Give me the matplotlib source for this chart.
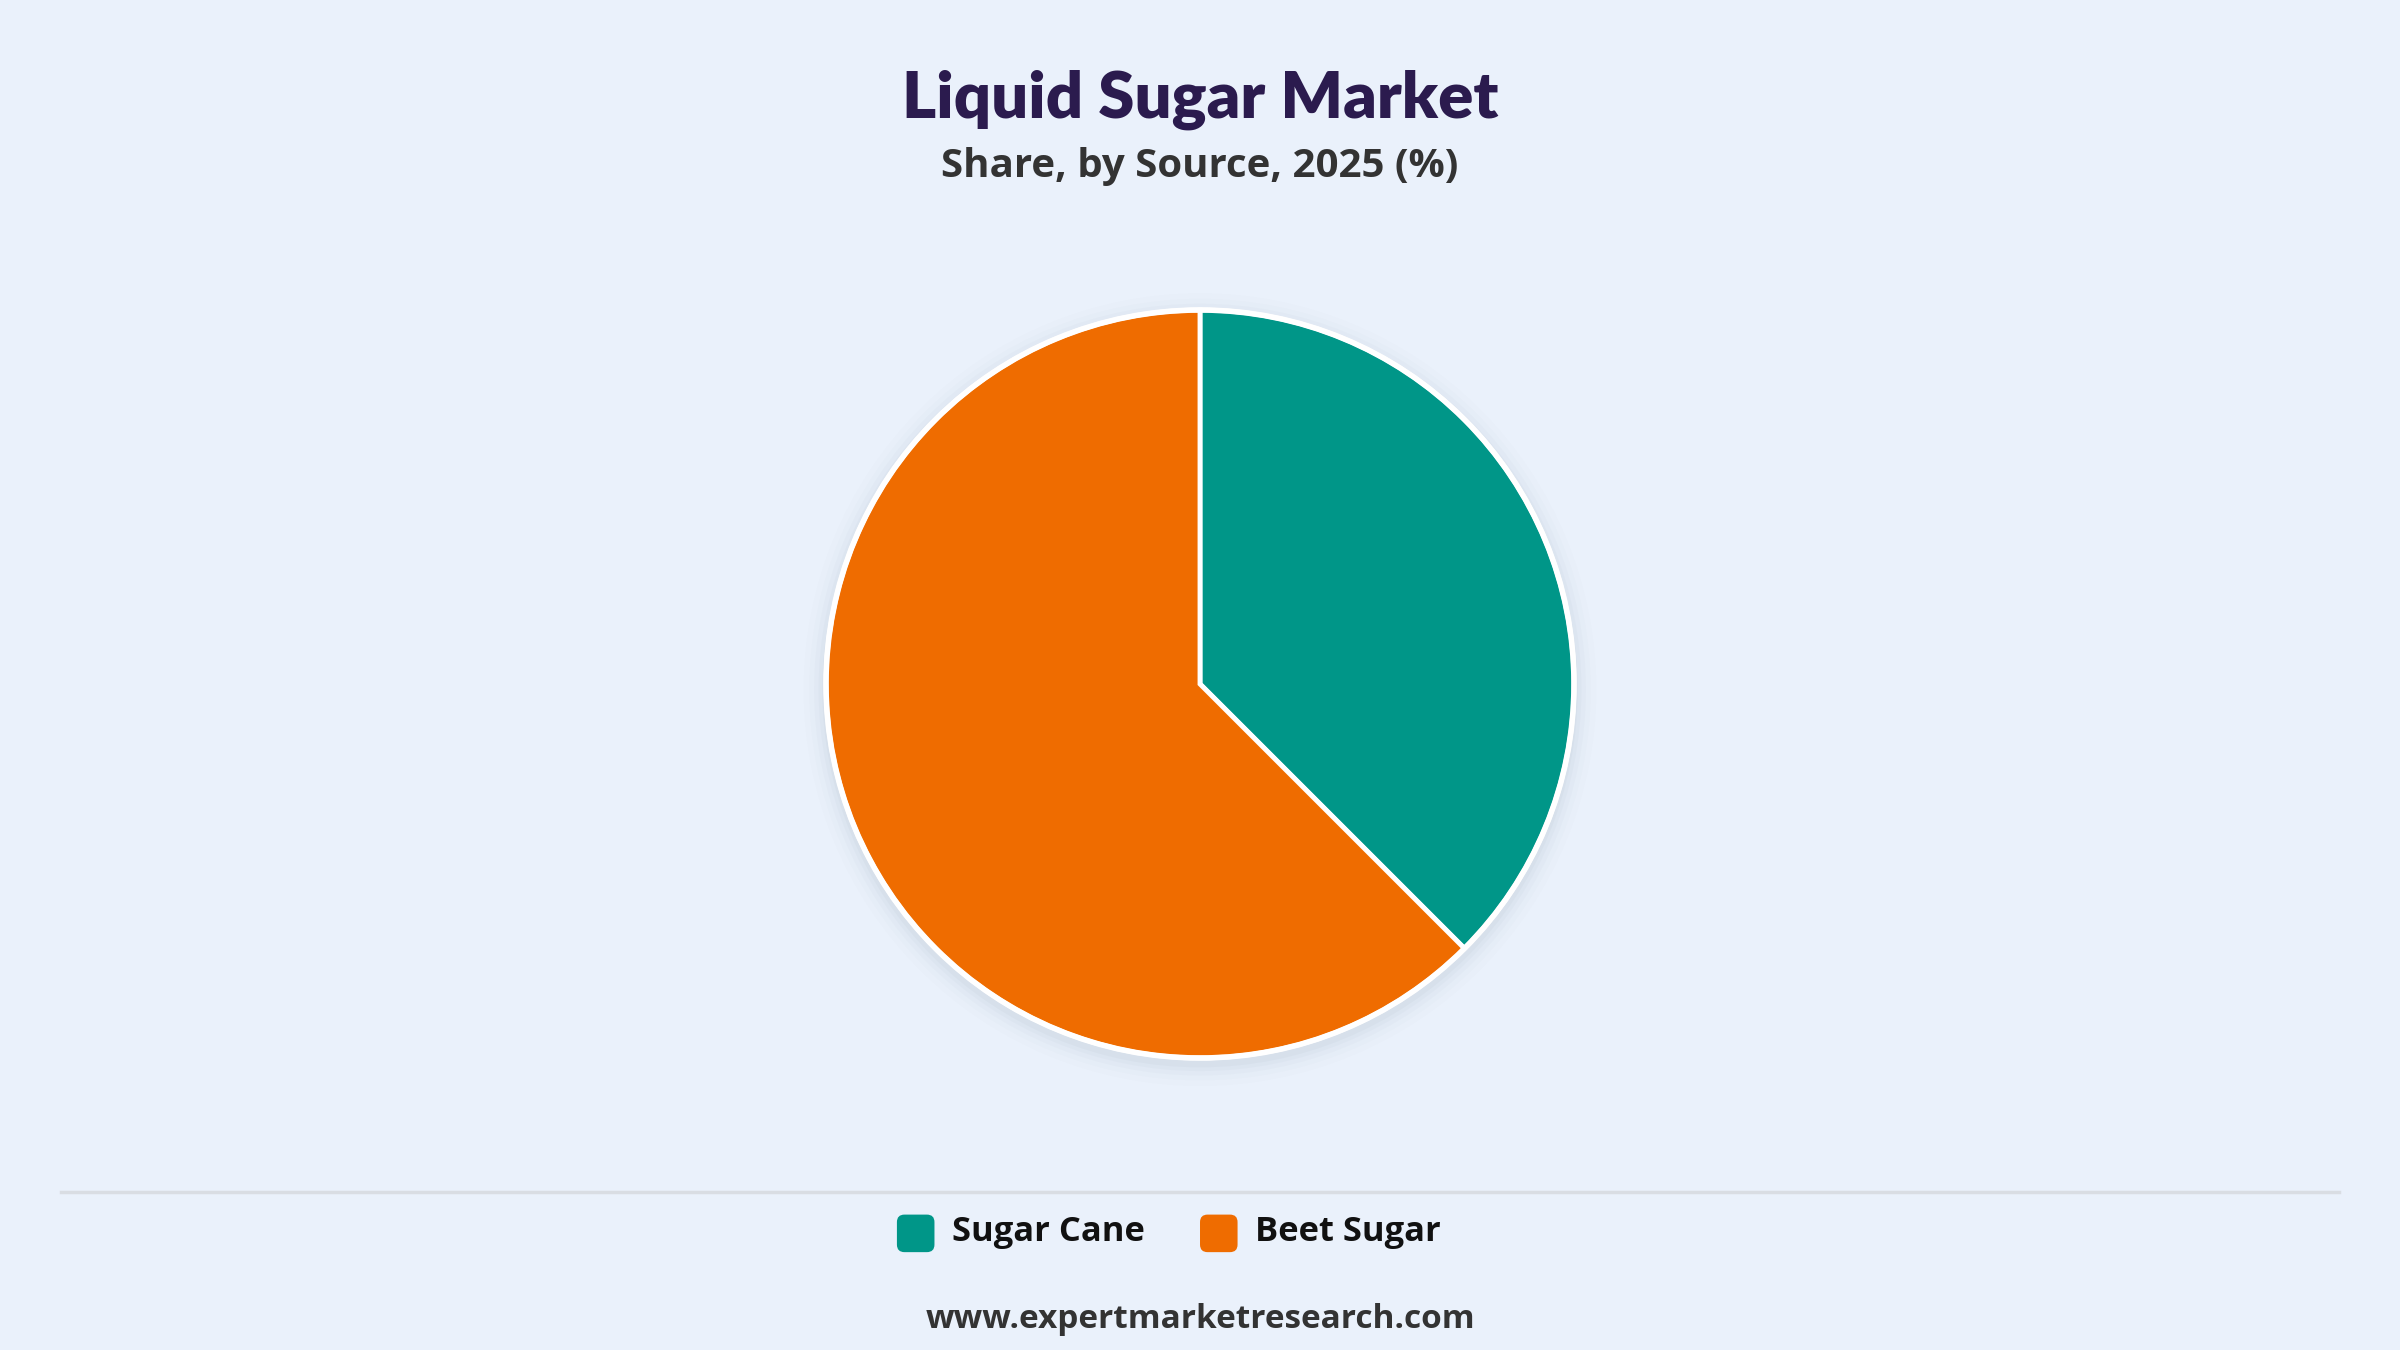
import matplotlib
matplotlib.use("Agg")
import matplotlib.pyplot as plt
from matplotlib.patches import Patch, Circle, FancyBboxPatch
from matplotlib.lines import Line2D
from matplotlib.legend_handler import HandlerPatch

categories = ["Sugar Cane", "Beet Sugar"]
shares = [37.5, 62.5]
colors = ["#009688", "#EF6C00"]

title = "Liquid Sugar Market"
subtitle = "Share, by Source, 2025 (%)"
footer = "www.expertmarketresearch.com"

BG = "#EAF1FB"
W, H = 2400, 1350
DPI = 100

plt.rcParams['font.family'] = ['Open Sans', 'DejaVu Sans']

fig = plt.figure(figsize=(W / DPI, H / DPI), dpi=DPI, facecolor=BG)

# Pie axes
cx, cy, r = 1200, 684, 374
ax = fig.add_axes([0, 0, 1, 1])
ax.set_facecolor("none")
ax.axis("off")

# soft shadow
for dr, a in [(0.06, 0.015), (0.045, 0.02), (0.032, 0.03), (0.02, 0.04), (0.01, 0.05)]:
    ax.add_patch(Circle((0.0, -0.015), 1 + dr, facecolor="#7a8aa0", edgecolor="none", alpha=a, zorder=0))

wedges, _ = ax.pie(shares, colors=colors, startangle=90, counterclock=False,
                   radius=1.0, wedgeprops=dict(edgecolor="white", linewidth=3.5))
for w in wedges:
    w.set_zorder(2)
ax.add_patch(Circle((0, 0), 1.0, facecolor="none", edgecolor="white", linewidth=4, zorder=3))
ax.set_xlim(-1.1, 1.1)
ax.set_ylim(-1.1, 1.1)
ax.set_position([(cx - 1.1 * r) / W, (H - cy - 1.1 * r) / H, 2.2 * r / W, 2.2 * r / H])

# Titles
fig.text(0.5, 1 - 100 / H, title, ha="center", va="center", fontsize=47,
         fontweight="heavy", color="#2B1B4E", family=['Lato', 'Open Sans', 'DejaVu Sans'])
fig.text(0.5, 1 - 166 / H, subtitle, ha="center", va="center", fontsize=29,
         fontweight="bold", color="#333333")

# separator line
fig.add_artist(Line2D([61 / W, 2339 / W], [1 - 1192 / H, 1 - 1192 / H], color="#D9DDE3", linewidth=2.5))


class RoundHandler(HandlerPatch):
    def create_artists(self, legend, orig_handle, xdescent, ydescent, width, height, fontsize, trans):
        s = min(width, height)
        p = FancyBboxPatch((-xdescent + (width - s) / 2, -ydescent + (height - s) / 2 - s * 0.1), s, s,
                           boxstyle=f"round,pad=0,rounding_size={s * 0.2}",
                           facecolor=orig_handle.get_facecolor(), edgecolor="none",
                           transform=trans)
        return [p]


handles = [Patch(facecolor=c, edgecolor="none", label=l) for c, l in zip(colors, categories)]
leg = fig.legend(handles=handles, loc="center", bbox_to_anchor=(1167 / W, 1 - 1230 / H), ncol=2,
                 frameon=False, fontsize=24.8, handlelength=1.3, handleheight=1.3,
                 handletextpad=0.4, columnspacing=1.5,
                 handler_map={Patch: RoundHandler()})
for t in leg.get_texts():
    t.set_fontweight("bold")
    t.set_color("#111111")

fig.text(0.5, 1 - 1319 / H, footer, ha="center", va="center", fontsize=24,
         fontweight="bold", color="#333333")

fig.savefig("out.png", dpi=DPI, facecolor=BG)
